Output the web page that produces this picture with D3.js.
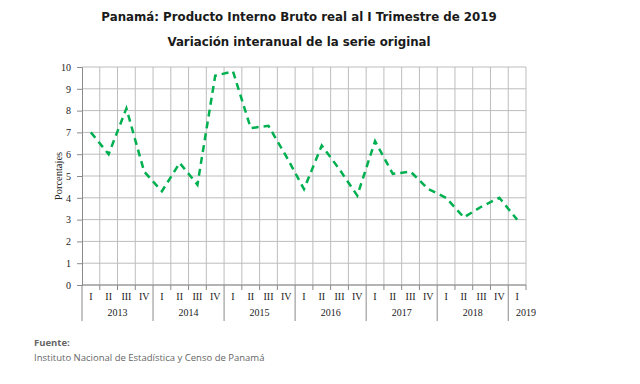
<!DOCTYPE html>
<html>
<head>
<meta charset="utf-8">
<script src="https://cdn.jsdelivr.net/npm/d3@7"></script>
<style>
  body { margin: 0; background: #fff; }
  svg { display: block; }
</style>
</head>
<body>
<script>
var width = 640,
    height = 384;

// datos
var years = ["2013", "2014", "2015", "2016", "2017", "2018", "2019"];
var quarters = ["I", "II", "III", "IV"];
var values = [7.0, 6.0, 8.1, 5.2, 4.3, 5.6, 4.6, 9.6,
              9.8, 7.2, 7.3, 5.9, 4.4, 6.4, 5.3, 4.1,
              6.6, 5.1, 5.2, 4.4, 4.0, 3.1, 3.6, 4.0,
              3.0];
var yTicks = [0, 1, 2, 3, 4, 5, 6, 7, 8, 9, 10];

var periods = values.map(function(v, i) {
  return { key: years[Math.floor(i / 4)] + "-" + quarters[i % 4], q: quarters[i % 4], year: years[Math.floor(i / 4)], v: v };
});

var svg = d3.select("body").append("svg")
    .attr("width", width)
    .attr("height", height);

var pLeft = 82, pRight = 526, pTop = 67, pBottom = 285;

var x = d3.scaleBand()
    .domain(periods.map(function(d) { return d.key; }))
    .range([pLeft, pRight])
    .padding(0);

var y = d3.scaleLinear()
    .domain([0, 10])
    .range([pBottom, pTop]);

// titulos
svg.append("text")
    .attr("x", 299).attr("y", 21)
    .attr("text-anchor", "middle")
    .style("font-family", "Verdana, 'DejaVu Sans', sans-serif")
    .style("font-weight", "bold")
    .style("font-size", "11.8px")
    .style("fill", "#1a1a1a")
    .text("Panamá: Producto Interno Bruto real al I Trimestre de 2019");

svg.append("text")
    .attr("x", 299).attr("y", 46)
    .attr("text-anchor", "middle")
    .style("font-family", "Verdana, 'DejaVu Sans', sans-serif")
    .style("font-weight", "bold")
    .style("font-size", "11.8px")
    .style("fill", "#1a1a1a")
    .text("Variación interanual de la serie original");

// rejilla horizontal
svg.append("g")
  .selectAll("line")
  .data(yTicks)
  .enter()
  .append("line")
    .attr("x1", pLeft).attr("x2", pRight)
    .attr("y1", function(d) { return y(d); })
    .attr("y2", function(d) { return y(d); })
    .attr("stroke", "#bdbdbd")
    .attr("stroke-width", 1);

// rejilla vertical
svg.append("g")
  .selectAll("line")
  .data(periods.slice(1))
  .enter()
  .append("line")
    .attr("x1", function(d) { return x(d.key); })
    .attr("x2", function(d) { return x(d.key); })
    .attr("y1", pTop).attr("y2", pBottom)
    .attr("stroke", "#bdbdbd")
    .attr("stroke-width", 1);

svg.append("line")
    .attr("x1", pRight).attr("x2", pRight)
    .attr("y1", pTop).attr("y2", pBottom)
    .attr("stroke", "#bdbdbd");

// eje y
var yAxis = d3.axisLeft(y)
    .tickValues(yTicks)
    .tickSize(5)
    .tickPadding(6);

var gy = svg.append("g")
    .attr("transform", "translate(" + pLeft + ",0)")
    .call(yAxis);
gy.select(".domain").attr("stroke", "#8a8a8a");
gy.selectAll(".tick line").attr("stroke", "#8a8a8a");
gy.selectAll("text")
    .style("font-family", "'Liberation Serif', 'Times New Roman', serif")
    .style("font-size", "10px")
    .style("fill", "#222");

svg.append("text")
    .attr("transform", "translate(62," + ((pTop + pBottom) / 2) + ") rotate(-90)")
    .attr("text-anchor", "middle")
    .style("font-family", "'Liberation Serif', 'Times New Roman', serif")
    .style("font-size", "10.5px")
    .style("fill", "#222")
    .text("Porcentajes");

// eje x
svg.append("line")
    .attr("x1", pLeft).attr("x2", pRight)
    .attr("y1", pBottom).attr("y2", pBottom)
    .attr("stroke", "#8a8a8a");

svg.append("g")
  .selectAll("line")
  .data(periods.slice(1).concat([null]))
  .enter()
  .append("line")
    .attr("x1", function(d) { return d ? x(d.key) : pRight; })
    .attr("x2", function(d) { return d ? x(d.key) : pRight; })
    .attr("y1", pBottom)
    .attr("y2", function(d) { return d && d.q === "I" ? pBottom + 36 : pBottom + 5; })
    .attr("stroke", "#8a8a8a");

svg.append("line")
    .attr("x1", pLeft).attr("x2", pLeft)
    .attr("y1", pBottom).attr("y2", pBottom + 36)
    .attr("stroke", "#8a8a8a");

svg.append("g")
  .selectAll("text")
  .data(periods)
  .enter()
  .append("text")
    .attr("x", function(d) { return x(d.key) + x.bandwidth() / 2; })
    .attr("y", pBottom + 15)
    .attr("text-anchor", "middle")
    .style("font-family", "'Liberation Serif', 'Times New Roman', serif")
    .style("font-size", "10px")
    .style("fill", "#222")
    .text(function(d) { return d.q; });

svg.append("g")
  .selectAll("text")
  .data(years)
  .enter()
  .append("text")
    .attr("x", function(yr) {
      var ks = periods.filter(function(d) { return d.year === yr; });
      var a = x(ks[0].key), b = x(ks[ks.length - 1].key) + x.bandwidth();
      // el ultimo año tiene una sola banda, su etiqueta se corre a la derecha
      return ks.length === 1 ? b : (a + b) / 2;
    })
    .attr("y", pBottom + 31)
    .attr("text-anchor", "middle")
    .style("font-family", "'Liberation Serif', 'Times New Roman', serif")
    .style("font-size", "10px")
    .style("fill", "#222")
    .text(function(yr) { return yr; });

// linea
var line = d3.line()
    .x(function(d) { return x(d.key) + x.bandwidth() / 2; })
    .y(function(d) { return y(d.v); });

svg.append("path")
    .datum(periods)
    .attr("d", line)
    .attr("fill", "none")
    .attr("stroke", "#00b050")
    .attr("stroke-width", 2.5)
    .attr("stroke-dasharray", "7,5");

// fuente
svg.append("text")
    .attr("x", 34).attr("y", 346)
    .style("font-family", "'Open Sans', sans-serif")
    .style("font-weight", "bold")
    .style("font-size", "9.5px")
    .style("fill", "#666")
    .text("Fuente:");

svg.append("text")
    .attr("x", 34).attr("y", 361)
    .style("font-family", "'Open Sans', sans-serif")
    .style("font-size", "9.5px")
    .style("fill", "#666")
    .text("Instituto Nacional de Estadística y Censo de Panamá");
</script>
</body>
</html>
